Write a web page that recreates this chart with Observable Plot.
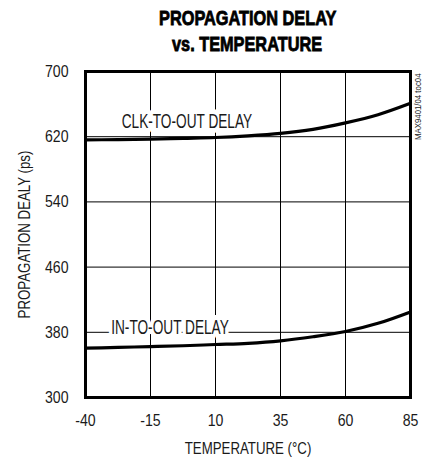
<!DOCTYPE html>
<html><head><meta charset="utf-8">
<script src="https://cdn.jsdelivr.net/npm/d3@7"></script>
<script src="https://cdn.jsdelivr.net/npm/@observablehq/plot@0.6"></script>
<style>
body{margin:0;background:#fff;}
#title{width:325px;margin-left:85px;height:60px;text-align:center;font-family:"Liberation Sans",Arial,sans-serif;font-weight:bold;font-size:20px;line-height:26px;padding-top:5px;box-sizing:border-box;color:#000;}
#title span{display:inline-block;transform:scaleX(0.815);-webkit-text-stroke:0.8px #000;white-space:nowrap}
</style>
</head><body>
<div id="title"><span>PROPAGATION DELAY</span><br><span>vs. TEMPERATURE</span></div>
<div id="chart"></div>
<script>
const temperatures = [-40, -27.5, -15, -2.5, 10, 22.5, 35, 47.5, 60, 72.5, 85];
const clkToOut = [616, 616.5, 617, 618, 619, 621, 624, 629, 637, 647, 661];
const inToOut = [360.5, 361.5, 362.5, 363.5, 365, 366.5, 369.5, 374.5, 381, 391, 405];
const xTicks = [-40, -15, 10, 35, 60, 85];
const yTicks = [300, 380, 460, 540, 620, 700];
const curveLabels = ["CLK-TO-OUT DELAY", "IN-TO-OUT DELAY"];
const labelTemps = [-1, -7.5];
const labelDelays = [638.5, 385];
const sideNote = "MAX9401/04 toc04";

const rows = [];
temperatures.forEach((t, i) => {
  rows.push({series: "clk", t, d: clkToOut[i]});
  rows.push({series: "in", t, d: inToOut[i]});
});
const labels = curveLabels.map((s, i) => ({s, t: labelTemps[i], d: labelDelays[i]}));

const font = '"Liberation Sans",Arial,sans-serif';
const chart = Plot.plot({
  width: 422,
  height: 397,
  marginTop: 11,
  marginBottom: 60,
  marginLeft: 85,
  marginRight: 12,
  style: {fontFamily: font, fontSize: "17px", color: "#1a1a1a", background: "#fff"},
  x: {domain: [-40, 85]},
  y: {domain: [300, 700]},
  marks: [
    Plot.gridX(xTicks, {stroke: "#000", strokeOpacity: 1, strokeWidth: 1}),
    Plot.gridY(yTicks, {stroke: "#000", strokeOpacity: 1, strokeWidth: 1}),
    Plot.text(labels, {x: "t", y: "d", text: "s", fill: "#1a1a1a", stroke: "white", strokeWidth: 10, strokeLinejoin: "round", fontSize: 19.5}),
    Plot.line(rows, {x: "t", y: "d", z: "series", curve: "monotone-x", stroke: "#000", strokeWidth: 3.2}),
    Plot.frame({stroke: "#000", strokeWidth: 3}),
    Plot.text([sideNote], {frameAnchor: "top-right", dx: 4, dy: 2, rotate: -90, textAnchor: "end", fontSize: 8.5, fill: "#222"}),
    Plot.axisX(xTicks, {tickSize: 0, tickPadding: 16, fontSize: 17, tickFormat: d => String(d), label: "TEMPERATURE (°C)", labelAnchor: "center", labelOffset: 56, labelArrow: "none"}),
    Plot.axisY(yTicks, {tickSize: 0, tickPadding: 17, fontSize: 17, tickFormat: d => String(d), label: "PROPAGATION DEALY (ps)", labelAnchor: "center", labelOffset: 68, labelArrow: "none"})
  ]
});
document.getElementById("chart").appendChild(chart);

// condense glyphs to mimic the narrow typeface of the original
chart.querySelectorAll("text").forEach(el => {
  const s = el.textContent.trim();
  let k;
  if (/^-?\d+$/.test(s)) k = 0.83;
  else if (s.includes("DELAY")) k = 0.70;
  else if (s.includes("TEMPERATURE") || s.includes("DEALY")) k = 0.78;
  else if (s.startsWith("MAX")) k = 0.92;
  else return;
  const len = el.getComputedTextLength();
  if (len > 0) {
    el.setAttribute("textLength", (len * k).toFixed(2));
    el.setAttribute("lengthAdjust", "spacingAndGlyphs");
  }
});
</script>
</body></html>
